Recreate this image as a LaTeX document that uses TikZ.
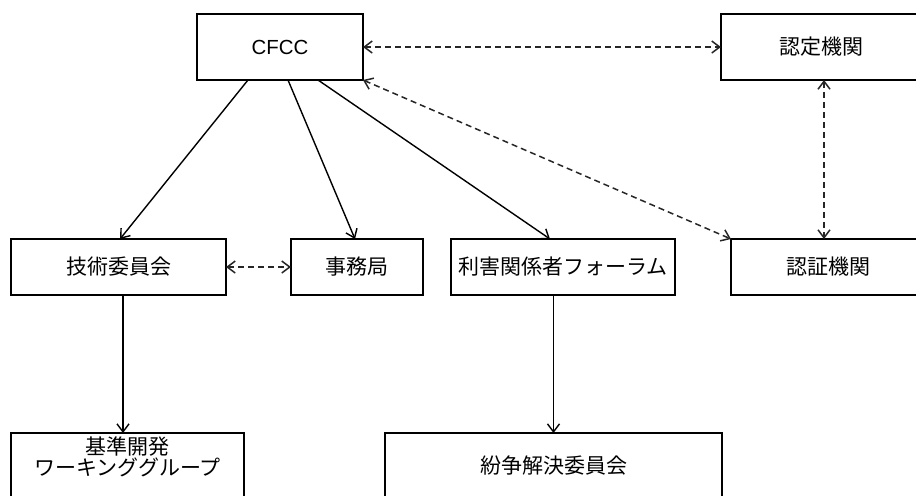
\documentclass[tikz,border=0pt]{standalone}
\usepackage{fontspec}
\setmainfont{Liberation Sans}
\newfontfamily\jpfont{Noto Sans CJK JP}
\usetikzlibrary{arrows.meta,positioning}

\begin{document}
\begin{tikzpicture}[
    x=0.5pt, y=-0.5pt,
    box/.style={rectangle, draw, line width=0.7pt, inner sep=0pt, outer sep=0pt, align=center,
                minimum height=28pt, font=\jpfont\fontsize{10.5pt}{10.5pt}\selectfont},
    tallbox/.style={box, minimum height=33pt},
    arrow/.style={-{Straight Barb[length=4pt,width=6pt]}, line width=0.7pt},
    link/.style={{Straight Barb[length=4pt,width=6pt]}-{Straight Barb[length=4pt,width=6pt]},
                 dash pattern=on 3pt off 2pt, line width=0.75pt, black!85}
  ]
  \useasboundingbox (0,0) rectangle (916,495);
  \clip (0,0) rectangle (916,495);
  \node[tallbox, minimum width=83pt, font=\fontsize{10.2pt}{12pt}\selectfont] (cfcc) at (280,47) {CFCC};
  \node[tallbox, minimum width=100pt, right=179pt of cfcc] (nintei) {認定機関};
  \node[box, minimum width=107.5pt] (gijutsu) at (118.5,267) {技術委員会};
  \node[box, minimum width=66pt, right=32.5pt of gijutsu] (jimu) {事務局};
  \node[box, minimum width=112pt, right=14pt of jimu] (rigai) {利害関係者フォーラム};
  \node[box, minimum width=97pt, right=28pt of rigai] (ninsho) {認証機関};
  \node[tallbox, minimum width=116.5pt, below=69pt of gijutsu.south west, anchor=north west] (kijun)
    {基準開発\\ワーキンググループ\\[-1pt]\mbox{}};
  \node[tallbox, minimum width=168.5pt] (funso) at (553.5,466) {紛争解決委員会};

  \draw[arrow] ([xshift=-16pt]cfcc.south) -- ([xshift=0.75pt]gijutsu.north);
  \draw[arrow] ([xshift=4pt]cfcc.south) -- ([xshift=-1pt]jimu.north);
  \draw[arrow] ([xshift=19pt]cfcc.south) -- ([xshift=-6.5pt]rigai.north);
  \draw[link] (cfcc.east) -- (nintei.west);
  \draw[link] (cfcc.south east) -- (ninsho.north west);
  \draw[link] ([xshift=1.5pt]nintei.south) -- ([xshift=-2pt]ninsho.north);
  \draw[link] (gijutsu.east) -- (jimu.west);
  \draw[arrow] ([xshift=2.25pt]gijutsu.south) -- ([xshift=-2.25pt]kijun.north);
  \draw[arrow] (rigai.south -| funso.north) -- (funso.north);
\end{tikzpicture}
\end{document}
